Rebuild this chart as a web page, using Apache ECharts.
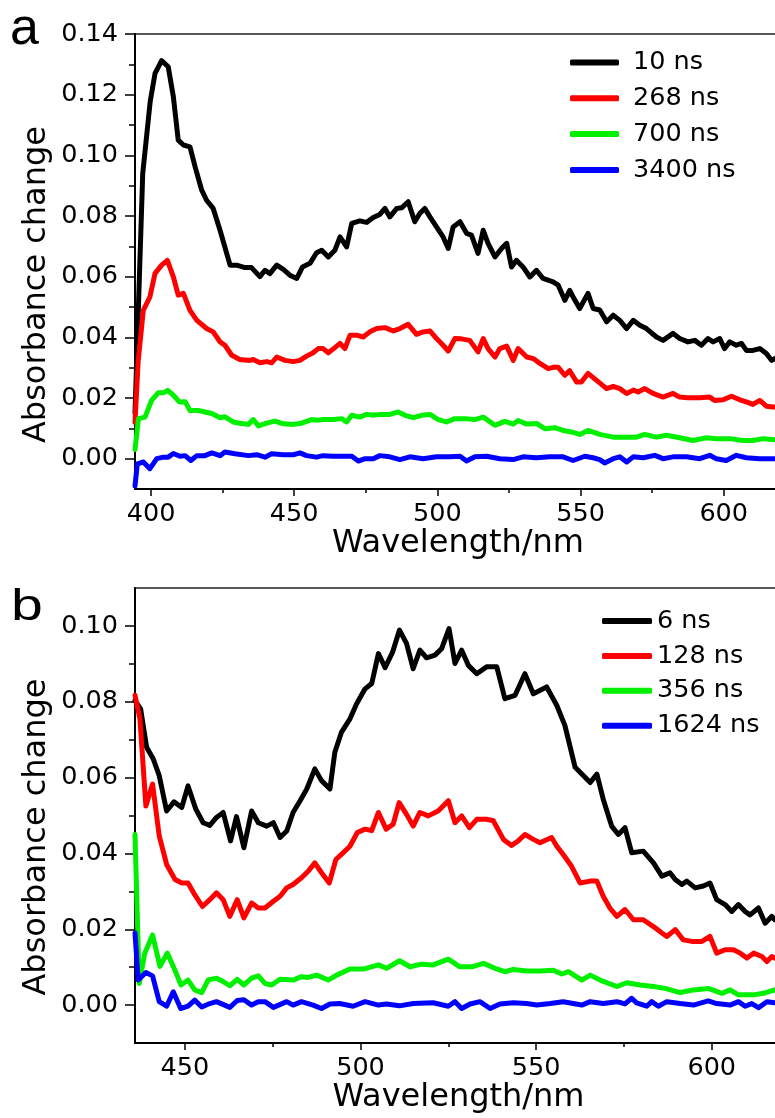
<!DOCTYPE html>
<html><head><meta charset="utf-8">
<script src="https://cdn.jsdelivr.net/npm/echarts@6/dist/echarts.min.js"></script>
<style>html,body{margin:0;padding:0;background:#fff}#c{width:775px;height:1118px}</style>
</head><body><div id="c"></div>
<script>
// ---------- Panel a data (wavelength nm, absorbance change) ----------
const a10ns = [[394.4,0.015],[397.1,0.094],[399.7,0.1177],[401.4,0.127],[403.7,0.1312],[406.0,0.1292],[407.8,0.1193],[409.5,0.105],[411.3,0.1034],[413.6,0.1028],[415.4,0.0962],[417.7,0.0885],[419.4,0.0852],[421.7,0.0825],[424.1,0.0753],[427.6,0.0638],[429.9,0.0638],[432.8,0.063],[435.1,0.063],[438.0,0.060],[439.8,0.0621],[441.5,0.061],[443.9,0.0638],[446.2,0.0624],[448.5,0.0605],[450.9,0.0594],[452.9,0.0632],[455.5,0.0644],[457.8,0.0679],[459.6,0.0687],[461.9,0.0665],[464.2,0.0687],[466.0,0.0731],[468.3,0.0698],[470.1,0.0776],[472.9,0.0784],[475.3,0.0779],[477.6,0.0795],[479.9,0.0805],[481.7,0.0825],[483.4,0.0797],[485.8,0.0825],[487.5,0.0827],[489.8,0.0847],[492.1,0.0781],[493.9,0.0809],[495.6,0.0825],[497.4,0.0797],[499.7,0.0764],[502.0,0.0731],[503.8,0.0693],[505.5,0.0764],[507.9,0.0781],[510.2,0.0743],[511.9,0.0737],[514.2,0.0677],[516.0,0.0753],[517.7,0.071],[520.1,0.0665],[522.4,0.0693],[524.2,0.071],[525.9,0.0632],[527.6,0.0654],[529.9,0.0632],[532.3,0.0599],[534.6,0.0621],[536.9,0.0594],[540.4,0.0583],[542.2,0.0572],[544.5,0.0522],[546.2,0.0555],[547.4,0.0533],[549.7,0.0495],[552.6,0.0545],[554.4,0.0495],[556.7,0.049],[559.1,0.0451],[561.4,0.0473],[563.7,0.0456],[566.1,0.0429],[568.4,0.0456],[570.7,0.044],[573.0,0.0429],[576.5,0.0401],[578.8,0.039],[582.3,0.0413],[584.6,0.0396],[587.5,0.0385],[589.9,0.039],[592.2,0.0374],[594.5,0.0396],[596.3,0.0385],[598.6,0.0396],[600.3,0.0363],[602.1,0.0385],[604.4,0.0374],[606.2,0.038],[607.9,0.0357],[610.2,0.0357],[612.6,0.0363],[614.9,0.0347],[616.7,0.0324],[617.9,0.033]];
const a268ns = [[394.4,0.012],[395.5,0.032],[397.3,0.0489],[399.6,0.0533],[401.4,0.0611],[403.7,0.0638],[405.7,0.0654],[407.8,0.0599],[409.5,0.0539],[411.3,0.0545],[413.6,0.0489],[416.0,0.0456],[419.4,0.0429],[421.7,0.0418],[424.1,0.0385],[425.8,0.0374],[428.2,0.0341],[431.0,0.0327],[434.5,0.0324],[435.7,0.0327],[438.0,0.0316],[440.4,0.032],[442.1,0.0316],[443.9,0.0335],[446.8,0.0324],[449.7,0.032],[452.0,0.0324],[454.3,0.0338],[456.6,0.0349],[458.4,0.0363],[460.1,0.0363],[461.9,0.0349],[464.2,0.0366],[466.0,0.038],[467.7,0.0363],[469.5,0.0407],[471.8,0.0407],[474.1,0.0401],[476.4,0.0418],[478.8,0.0429],[481.7,0.0432],[484.6,0.0421],[486.9,0.0429],[489.8,0.0443],[492.7,0.041],[495.0,0.0418],[497.4,0.0421],[499.7,0.0396],[502.0,0.0374],[503.8,0.0355],[506.1,0.0396],[508.4,0.0395],[511.3,0.039],[514.2,0.0352],[516.0,0.0396],[517.7,0.0363],[520.1,0.0335],[521.8,0.0363],[524.2,0.0371],[526.5,0.0324],[528.2,0.0363],[531.2,0.0335],[533.5,0.033],[535.8,0.0314],[538.7,0.0297],[540.4,0.0301],[542.2,0.0301],[544.5,0.0275],[546.2,0.029],[548.6,0.0253],[550.3,0.0253],[552.6,0.0281],[555.6,0.0258],[559.1,0.0231],[561.4,0.0238],[563.7,0.0231],[566.1,0.0215],[568.4,0.0226],[570.1,0.022],[572.4,0.0231],[575.3,0.0215],[578.8,0.0203],[582.3,0.0215],[584.6,0.0203],[587.5,0.0201],[591.6,0.0201],[595.1,0.0203],[596.8,0.0192],[599.8,0.0194],[602.7,0.0206],[605.6,0.0194],[607.9,0.0187],[610.2,0.0179],[612.6,0.0192],[614.9,0.0173],[617.2,0.017],[617.9,0.017]];
const a700ns = [[394.4,0.003],[395.6,0.0132],[397.9,0.0137],[400.2,0.0192],[402.5,0.0217],[404.3,0.0217],[405.8,0.0225],[407.8,0.0209],[409.9,0.0187],[411.9,0.0188],[413.6,0.0159],[416.5,0.0159],[418.8,0.0154],[421.2,0.0149],[424.1,0.0135],[425.8,0.0138],[428.7,0.0121],[431.0,0.0117],[434.0,0.0113],[435.7,0.0129],[437.5,0.0108],[440.4,0.0117],[443.3,0.0124],[446.2,0.0115],[449.7,0.0113],[452.6,0.0117],[456.1,0.0129],[458.4,0.0127],[460.1,0.0129],[463.6,0.0129],[466.6,0.0132],[468.3,0.0121],[470.1,0.0143],[472.9,0.0137],[475.3,0.0146],[477.6,0.0143],[479.9,0.0146],[483.4,0.0146],[486.3,0.0154],[488.7,0.0143],[491.6,0.0135],[494.5,0.0143],[497.4,0.0146],[500.3,0.0129],[503.2,0.0121],[506.1,0.0132],[509.6,0.0132],[513.1,0.0129],[516.0,0.0137],[520.1,0.011],[523.6,0.0123],[526.5,0.0114],[528.2,0.0126],[531.2,0.0114],[534.6,0.0116],[537.5,0.0099],[541.0,0.0102],[543.9,0.0093],[546.8,0.0088],[549.7,0.008],[552.6,0.0093],[556.7,0.008],[561.4,0.0071],[566.1,0.0071],[569.5,0.0071],[572.4,0.008],[576.5,0.0071],[580.0,0.0077],[584.6,0.0069],[589.3,0.006],[594.0,0.0069],[597.4,0.0066],[602.1,0.0066],[606.7,0.006],[610.2,0.006],[613.7,0.0066],[617.9,0.0062]];
const a3400ns = [[394.4,-0.009],[395.2,-0.0017],[397.3,-0.0011],[399.6,-0.0033],[402.0,0.0],[404.3,0.0005],[406.0,0.0005],[407.8,0.0017],[410.1,0.0008],[411.9,0.001],[413.9,-0.0006],[416.0,0.001],[418.8,0.001],[421.2,0.0019],[424.1,0.001],[425.8,0.0022],[429.3,0.0016],[434.0,0.001],[436.9,0.0013],[439.8,0.0005],[442.1,0.0016],[446.2,0.0013],[449.7,0.0013],[452.0,0.0019],[454.3,0.001],[457.8,0.0005],[460.1,0.001],[463.6,0.0008],[467.1,0.0008],[470.1,0.0008],[472.4,-0.0008],[474.7,0.0],[477.6,0.0],[479.9,0.001],[483.4,0.0006],[486.9,-0.0003],[490.4,0.0006],[495.0,0.0],[499.7,0.0006],[504.3,0.0006],[507.9,0.0008],[510.2,-0.0008],[513.1,0.0006],[517.2,0.0008],[521.8,0.0],[526.5,-0.0003],[529.9,0.0006],[534.6,0.0003],[539.3,0.0006],[543.9,0.0006],[547.4,-0.0006],[551.5,0.0008],[554.4,0.0003],[556.7,-0.0003],[558.4,-0.0014],[561.4,0.0],[563.7,0.0006],[566.1,-0.0011],[568.4,0.0006],[571.9,0.0003],[575.9,0.0011],[578.8,0.0],[582.3,0.0006],[587.0,0.0006],[591.6,0.0],[595.1,0.0011],[597.4,0.0],[600.9,-0.0006],[604.4,0.0011],[607.9,0.0003],[612.6,0.0],[617.9,0.0]];

// ---------- Panel b data ----------
const b6ns = [[435.8,0.0803],[437.4,0.0781],[439.1,0.068],[441.0,0.0649],[442.7,0.0605],[444.8,0.0512],[446.9,0.0536],[449.1,0.0521],[450.9,0.0578],[453.1,0.0517],[455.2,0.0481],[457.1,0.0474],[459.0,0.0495],[460.9,0.0508],[463.0,0.0433],[464.7,0.0497],[466.8,0.0415],[469.0,0.0512],[470.9,0.0481],[473.3,0.0472],[475.2,0.0481],[477.1,0.0442],[479.0,0.0459],[480.8,0.0508],[482.8,0.0539],[484.7,0.057],[487.0,0.0623],[488.9,0.0592],[491.3,0.057],[492.7,0.0667],[494.6,0.072],[497.0,0.0755],[498.9,0.0795],[501.3,0.0834],[503.2,0.0848],[505.1,0.0927],[507.0,0.089],[509.1,0.093],[511.1,0.0989],[513.1,0.0954],[515.0,0.0887],[516.9,0.0936],[518.8,0.0916],[521.2,0.0923],[523.1,0.094],[525.2,0.0993],[526.9,0.0901],[528.8,0.0936],[530.7,0.0896],[533.1,0.0874],[535.9,0.0892],[538.8,0.0892],[541.1,0.0808],[544.0,0.0817],[546.8,0.0874],[549.2,0.0821],[553.0,0.0839],[555.9,0.079],[558.2,0.0737],[561.1,0.0627],[565.4,0.0587],[567.3,0.0609],[569.1,0.0543],[571.5,0.0472],[573.4,0.045],[575.3,0.0468],[577.2,0.0402],[580.5,0.0406],[583.4,0.0375],[585.8,0.034],[588.1,0.0349],[589.6,0.0331],[591.5,0.0318],[592.9,0.0327],[595.3,0.0309],[597.6,0.0314],[599.5,0.0322],[601.4,0.0278],[603.8,0.0265],[605.7,0.0247],[607.6,0.0265],[609.5,0.0247],[610.9,0.0238],[613.3,0.0256],[615.2,0.0216],[617.1,0.0234],[617.9,0.0225]];
const b128ns = [[435.8,0.0817],[437.2,0.0755],[438.9,0.0525],[440.8,0.0583],[442.7,0.0446],[444.8,0.0371],[447.2,0.0331],[449.1,0.0322],[450.9,0.0322],[452.8,0.0291],[455.0,0.026],[457.1,0.0278],[459.0,0.0296],[460.9,0.0278],[462.8,0.0234],[464.9,0.0278],[466.8,0.023],[469.0,0.0269],[470.9,0.0256],[472.8,0.0256],[475.2,0.0274],[477.1,0.0287],[479.0,0.0309],[480.8,0.0318],[483.2,0.0336],[485.1,0.0353],[487.0,0.0375],[488.9,0.0349],[491.1,0.0322],[493.0,0.0384],[495.1,0.0402],[497.0,0.0419],[499.1,0.0455],[501.3,0.0464],[503.2,0.046],[505.1,0.0508],[507.3,0.0464],[509.3,0.0477],[511.0,0.0534],[513.1,0.0503],[515.0,0.0472],[516.9,0.0508],[519.3,0.0499],[522.1,0.0512],[525.0,0.0539],[526.9,0.0481],[528.8,0.0499],[531.0,0.0468],[533.1,0.049],[535.9,0.049],[537.8,0.0486],[540.7,0.0437],[543.0,0.0421],[544.9,0.0433],[546.8,0.045],[549.2,0.0437],[551.1,0.0428],[554.4,0.0442],[555.9,0.0419],[557.7,0.0397],[560.1,0.0366],[562.5,0.0322],[565.4,0.0327],[567.3,0.0327],[569.1,0.0287],[571.0,0.0256],[573.0,0.0234],[575.3,0.0252],[577.7,0.0225],[580.5,0.0225],[583.4,0.0207],[585.8,0.019],[587.2,0.0181],[589.6,0.0199],[591.9,0.0172],[594.3,0.0168],[597.2,0.0168],[599.5,0.0181],[601.4,0.0137],[603.8,0.0146],[606.2,0.0146],[608.1,0.0137],[610.0,0.0124],[611.9,0.0137],[614.3,0.0128],[615.7,0.0115],[617.1,0.0128],[617.9,0.0124]];
const b356ns = [[435.8,0.045],[437.0,0.0057],[438.6,0.0137],[440.8,0.0185],[442.9,0.0102],[445.0,0.0137],[446.7,0.0102],[448.9,0.0053],[450.9,0.0066],[452.8,0.004],[454.8,0.0033],[456.6,0.0066],[459.0,0.0071],[460.9,0.0062],[462.8,0.0051],[464.9,0.0068],[466.8,0.0053],[469.0,0.0071],[470.9,0.0077],[472.8,0.0057],[474.7,0.0053],[477.1,0.0068],[480.8,0.0066],[483.2,0.0075],[485.1,0.0073],[487.5,0.0079],[490.8,0.0066],[493.2,0.0079],[497.0,0.0095],[500.8,0.0095],[505.1,0.0106],[507.4,0.0097],[511.1,0.0117],[514.1,0.0101],[517.4,0.0108],[520.7,0.0106],[525.0,0.0121],[528.3,0.0101],[531.7,0.0101],[535.0,0.011],[538.3,0.0097],[541.1,0.0088],[543.5,0.0094],[547.3,0.009],[551.1,0.009],[554.9,0.0092],[557.3,0.0082],[559.2,0.0088],[563.0,0.0066],[565.4,0.0079],[568.2,0.0066],[573.0,0.0049],[575.8,0.0059],[579.6,0.0053],[583.4,0.0049],[586.7,0.0044],[591.0,0.0033],[594.8,0.004],[599.0,0.0044],[602.9,0.0031],[605.2,0.004],[607.6,0.0027],[611.9,0.0027],[614.7,0.0031],[617.9,0.004]];
const b1624ns = [[435.8,0.019],[436.7,0.0066],[438.9,0.0086],[440.8,0.0077],[442.7,0.0009],[444.8,-0.0003],[446.7,0.0035],[448.8,-0.0009],[450.9,-0.0003],[452.8,0.0013],[454.8,-0.0005],[457.1,0.0004],[459.0,0.0009],[462.8,-0.0006],[464.9,0.0012],[466.8,0.0014],[469.0,0.0],[470.9,0.0009],[472.8,0.0009],[475.2,-0.0006],[479.0,0.0009],[480.8,0.0],[483.2,0.0009],[486.5,0.0],[488.9,-0.0009],[491.3,0.0003],[494.1,0.0004],[497.9,-0.0003],[501.3,0.0009],[505.1,0.0],[507.4,0.0003],[511.1,-0.0002],[515.0,0.0004],[520.7,0.0006],[525.0,-0.0003],[526.9,0.0009],[528.8,-0.0009],[531.2,0.0003],[534.0,0.0009],[536.9,-0.0009],[539.7,0.0003],[543.5,0.0006],[547.3,0.0004],[550.2,0.0],[554.0,0.0004],[557.7,0.0009],[563.0,0.0],[565.4,0.0009],[569.1,0.0004],[573.0,0.0009],[575.3,0.0003],[577.2,0.0018],[578.6,0.0006],[581.5,-0.0003],[582.9,0.0009],[584.8,-0.0003],[587.2,0.0009],[591.0,0.0004],[594.8,0.0],[599.0,0.0011],[601.4,0.0004],[605.2,0.0],[607.6,0.0009],[609.5,-0.0003],[611.4,0.0004],[613.3,-0.0007],[615.7,0.0009],[617.9,0.0006]];

// ---------- Tick values ----------
const aXTicks = [400, 450, 500, 550, 600];
const aXMinor = [425, 475, 525, 575];
const aYTicks = [0, 0.02, 0.04, 0.06, 0.08, 0.10, 0.12, 0.14];
const aYMinor = [0.01, 0.03, 0.05, 0.07, 0.09, 0.11, 0.13];
const bXTicks = [450, 500, 550, 600];
const bXMinor = [475, 525, 575];
const bYTicks = [0, 0.02, 0.04, 0.06, 0.08, 0.10];
const bYMinor = [0.01, 0.03, 0.05, 0.07, 0.09];

const aNames = ['10 ns', '268 ns', '700 ns', '3400 ns'];
const bNames = ['6 ns', '128 ns', '356 ns', '1624 ns'];
const colors = ['#000000', '#ff0000', '#00f000', '#0000ff'];

const FONT = 'DejaVu Sans';
const AX = '#000';

function xAxes(grid, min, max, ticks, minor) {
  return [
    { type: 'value', gridIndex: grid, min: min, max: max, position: 'bottom',
      axisLine: { show: true, onZero: false, lineStyle: { color: AX, width: 2 } },
      axisTick: { show: true, customValues: ticks, length: 7, lineStyle: { color: AX, width: 1.5 } },
      axisLabel: { customValues: ticks, margin: 12, color: '#000', fontFamily: FONT, fontSize: 25.5,
                   formatter: function (v) { return String(Math.round(v)); } },
      splitLine: { show: false },
      name: 'Wavelength/nm', nameLocation: 'middle', nameGap: 37,
      nameTextStyle: { fontFamily: FONT, fontSize: 32, color: '#000' } },
    { type: 'value', gridIndex: grid, min: min, max: max, position: 'bottom',
      axisLine: { show: false, onZero: false },
      axisTick: { show: true, customValues: minor, length: 4, lineStyle: { color: AX, width: 1.5 } },
      axisLabel: { show: false }, splitLine: { show: false } }
  ];
}
function yAxes(grid, min, max, ticks, minor) {
  return [
    { type: 'value', gridIndex: grid, min: min, max: max, position: 'left',
      axisLine: { show: true, onZero: false, lineStyle: { color: AX, width: 2 } },
      axisTick: { show: true, customValues: ticks, length: 10, lineStyle: { color: AX, width: 1.5 } },
      axisLabel: { customValues: ticks, margin: 17, color: '#000', fontFamily: FONT, fontSize: 25.5,
                   formatter: function (v) { return v.toFixed(2); } },
      splitLine: { show: false } },
    { type: 'value', gridIndex: grid, min: min, max: max, position: 'left',
      axisLine: { show: false, onZero: false },
      axisTick: { show: true, customValues: minor, length: 6, lineStyle: { color: AX, width: 1.5 } },
      axisLabel: { show: false }, splitLine: { show: false } }
  ];
}
function line(name, data, color, xi, yi) {
  return { type: 'line', name: name, data: data, xAxisIndex: xi, yAxisIndex: yi,
    symbol: 'none', showSymbol: false, animation: false,
    lineStyle: { color: color, width: 5, join: 'round', cap: 'round' },
    itemStyle: { color: color } };
}

const aData = [a10ns, a268ns, a700ns, a3400ns];
const bData = [b6ns, b128ns, b356ns, b1624ns];
const series = [];
aNames.forEach(function (n, i) { series.push(line(n, aData[i], colors[i], 0, 0)); });
bNames.forEach(function (n, i) { series.push(line(n, bData[i], colors[i], 2, 2)); });

const legendText = { fontFamily: FONT, fontSize: 25.5, lineHeight: 26, color: '#000' };

const option = {
  backgroundColor: '#ffffff',
  animation: false,
  grid: [
    { left: 135, top: 34, width: 646, height: 455, show: true, borderColor: '#222', borderWidth: 1.5,
      backgroundColor: 'transparent', containLabel: false, outerBoundsMode: 'none' },
    { left: 135, top: 588, width: 647, height: 455, show: true, borderColor: '#222', borderWidth: 1.5,
      backgroundColor: 'transparent', containLabel: false, outerBoundsMode: 'none' }
  ],
  xAxis: [].concat(xAxes(0, 394.4, 620, aXTicks, aXMinor), xAxes(1, 435.8, 620, bXTicks, bXMinor)),
  yAxis: [].concat(yAxes(0, -0.01, 0.14, aYTicks, aYMinor), yAxes(1, -0.01, 0.11, bYTicks, bYMinor)),
  legend: [
    { data: aNames, orient: 'vertical', left: 570, top: 49.5, padding: 0, itemWidth: 49, itemHeight: 6,
      itemGap: 9.8, icon: 'roundRect', selectedMode: false,
      textStyle: Object.assign({ padding: [0, 0, 0, 9] }, legendText) },
    { data: bNames, orient: 'vertical', left: 602, top: 608, padding: 0, itemWidth: 50, itemHeight: 6,
      itemGap: 8.9, icon: 'roundRect', selectedMode: false,
      textStyle: Object.assign({}, legendText) }
  ],
  graphic: [
    { type: 'text', x: 37, y: 284.5, rotation: Math.PI / 2,
      style: { text: 'Absorbance change', font: '32px "DejaVu Sans"', fill: '#000',
               textAlign: 'center', textVerticalAlign: 'middle', align: 'center', verticalAlign: 'middle' } },
    { type: 'text', x: 37, y: 837, rotation: Math.PI / 2,
      style: { text: 'Absorbance change', font: '32px "DejaVu Sans"', fill: '#000',
               textAlign: 'center', textVerticalAlign: 'middle', align: 'center', verticalAlign: 'middle' } },
    { type: 'text', x: 10, y: 30,
      style: { text: 'a', font: '52px "Liberation Sans"', fill: '#000',
               textAlign: 'left', textVerticalAlign: 'middle', align: 'left', verticalAlign: 'middle' } },
    { type: 'text', x: 11, y: 608, scaleX: 1.3,
      style: { text: 'b', font: '44px "Liberation Sans"', fill: '#000',
               textAlign: 'left', textVerticalAlign: 'middle', align: 'left', verticalAlign: 'middle' } }
  ],
  series: series
};

const chart = echarts.init(document.getElementById('c'), null, { renderer: 'canvas' });
chart.setOption(option);
</script></body></html>
